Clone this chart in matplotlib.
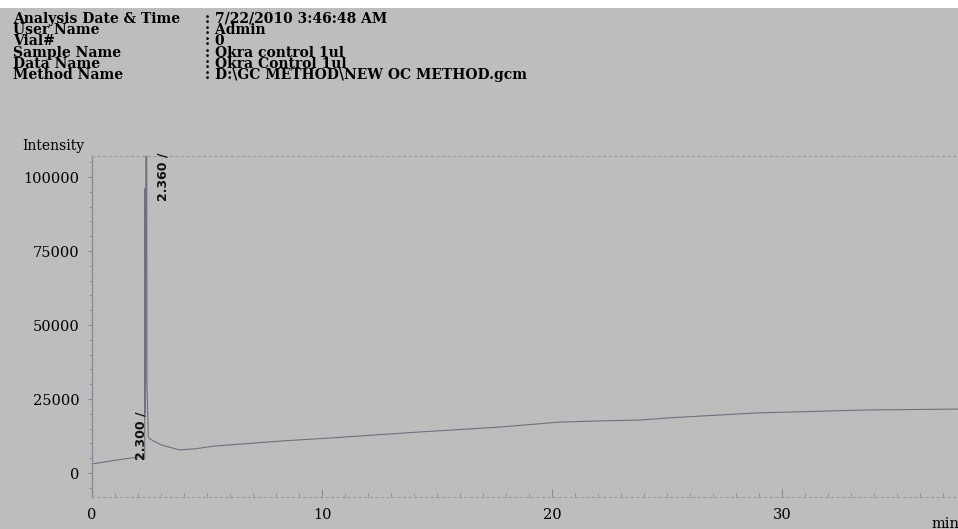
import matplotlib
matplotlib.use("Agg")
import matplotlib.pyplot as plt
from matplotlib.patches import Rectangle
from matplotlib.ticker import MultipleLocator

# ---- data ----
header_keys = ["Analysis Date & Time", "User Name", "Vial#", "Sample Name", "Data Name", "Method Name"]
header_vals = [": 7/22/2010 3:46:48 AM", ": Admin", ": 0", ": Okra control 1ul", ": Okra Control 1ul",
               ": D:\\GC METHOD\\NEW OC METHOD.gcm"]

time_min = [0, 1.0, 2.0, 2.25, 2.29, 2.30, 2.31, 2.33, 2.36, 2.39, 2.45, 2.6, 3.0, 3.8, 4.5, 5.3,
            6.5, 8.2, 10.3, 12.0, 14.3, 17.7, 20.3, 22.1, 23.8, 25.0, 28.9, 33.7, 37.65]
intensity = [3040, 4300, 5400, 5740, 4700, 96000, 20000, 30000, 250000, 30000, 12000, 11150, 9500,
             7800, 8200, 9100, 9800, 10800, 11800, 12700, 13900, 15500, 17200, 17600, 17900, 18600,
             20300, 21300, 21600]

peak_labels = ["2.300 /", "2.360 /"]
peak_label_x = [2.12, 3.1]
peak_label_y = [4300, 92000]

y_ticks = [0, 25000, 50000, 75000, 100000]
x_ticks = [0, 10, 20, 30]

W, H = 958, 529
bg = "#bdbdbd"
fig = plt.figure(figsize=(W / 100, H / 100), dpi=100, facecolor=bg)
# white strip at top (scan edge)
fig.patches.append(Rectangle((0, 1 - 8 / H), 1, 8 / H, transform=fig.transFigure,
                             facecolor="white", edgecolor="none"))

serif = ["DejaVu Serif"]

# header
for i, (k, v) in enumerate(zip(header_keys, header_vals)):
    yy = 1 - (19 + 11.2 * i) / H
    fig.text(13 / W, yy, k, family=serif, weight="bold", fontsize=10, va="center", ha="left")
    fig.text(205 / W, yy, v, family=serif, weight="bold", fontsize=10, va="center", ha="left")

left, right = 92 / W, 1.0
bottom, top = 1 - 497 / H, 1 - 156 / H
ax = fig.add_axes([left, bottom, right - left, top - bottom])
ax.set_facecolor(bg)
ax.set_xlim(0, 37.65)
ax.set_ylim(-8100, 107100)

ax.plot(time_min, intensity, color="#707080", lw=0.8)

for lx, ly, lab in zip(peak_label_x, peak_label_y, peak_labels):
    ax.text(lx, ly, lab, rotation=90, ha="center", va="bottom", fontsize=9,
            weight="bold", family=["DejaVu Sans"], color="#111111")

ax.spines["right"].set_visible(False)
ax.spines["left"].set_color("#8a8aa0")
ax.spines["left"].set_linewidth(1.0)
for s in ["bottom", "top"]:
    ax.spines[s].set_color("#9a9aa0")
    ax.spines[s].set_linestyle((0, (2, 3)))
    ax.spines[s].set_linewidth(0.8)

ax.set_xticks(x_ticks)
ax.set_yticks(y_ticks)
ax.xaxis.set_minor_locator(MultipleLocator(1))
ax.yaxis.set_minor_locator(MultipleLocator(5000))
ax.tick_params(axis="x", which="major", direction="in", length=6, color="#8a8a90", labelsize=10.5, pad=8)
ax.tick_params(axis="x", which="minor", direction="in", length=3, color="#8a8a90")
ax.tick_params(axis="y", which="major", direction="out", length=3, color="#8a8a90", labelsize=10.5, pad=6)
ax.tick_params(axis="y", which="minor", direction="out", length=2, color="#8a8a90")
for lab in ax.get_xticklabels() + ax.get_yticklabels():
    lab.set_family(serif)

fig.text(22 / W, 1 - 146 / H, "Intensity", family=serif, fontsize=10, va="center", ha="left")
fig.text(932 / W, 1 - 524 / H, "min", family=serif, fontsize=10.5, va="center", ha="left")

fig.savefig("out.png", dpi=100, facecolor=bg)
